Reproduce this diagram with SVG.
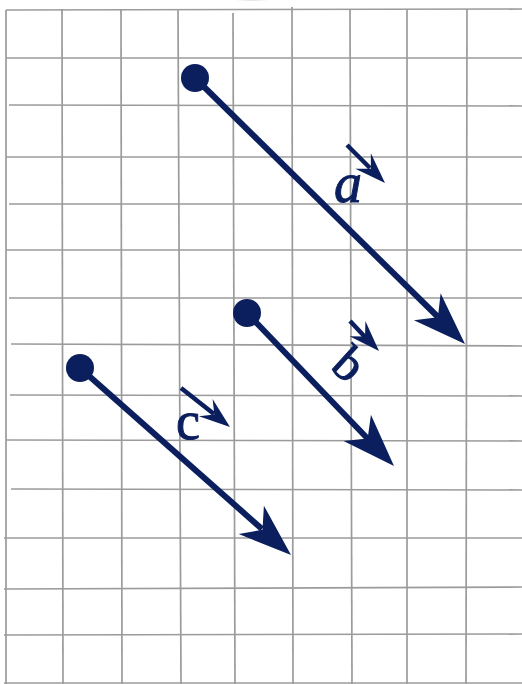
<svg xmlns="http://www.w3.org/2000/svg" xmlns:xlink="http://www.w3.org/1999/xlink" width="522" height="684" viewBox="0 0 522 684">
<style>
.grid line{stroke:#9b9b9b;stroke-width:1.7;fill:none}
.vec{stroke:#0b1f5e;stroke-width:6;fill:none;stroke-linecap:butt}
.sv{stroke:#0b1f5e;stroke-width:4.5;fill:none}
.fillv{fill:#0b1f5e}
.lbl{font-family:"Liberation Serif","Times New Roman",serif;fill:#0b1f5e;stroke:#0b1f5e;stroke-width:1}
</style>
<defs>
<path id="head" d="M0,0 L-53,-19 L-38,0 L-53,19 Z" class="fillv"/>
<path id="shead" d="M0,0 L-31,-11 L-20,0 L-31,11 Z" class="fillv"/>
<radialGradient id="sh" cx="0.5" cy="0.2" r="0.55">
<stop offset="0" stop-color="#5f86cc"/>
<stop offset="0.5" stop-color="#7d8799"/>
<stop offset="0.8" stop-color="#a5a5a5"/>
<stop offset="1" stop-color="#dddddd" stop-opacity="0"/>
</radialGradient>
</defs>
<rect width="522" height="684" fill="#ffffff"/>
<ellipse cx="252" cy="-4" rx="38" ry="11" fill="url(#sh)"/>
<g class="grid" id="grid">
<line x1="6" y1="10" x2="522" y2="9"/>
<line x1="6" y1="58" x2="522" y2="58"/>
<line x1="9" y1="105" x2="522" y2="106"/>
<line x1="6" y1="157" x2="522" y2="157"/>
<line x1="9" y1="204" x2="522" y2="204"/>
<line x1="6" y1="250" x2="522" y2="250"/>
<line x1="9" y1="298" x2="522" y2="298"/>
<line x1="11" y1="344" x2="522" y2="346"/>
<line x1="10" y1="395" x2="522" y2="396"/>
<line x1="6" y1="440" x2="522" y2="441"/>
<line x1="11" y1="489" x2="522" y2="490"/>
<line x1="4" y1="538" x2="522" y2="538"/>
<line x1="4" y1="589" x2="522" y2="587"/>
<line x1="4" y1="635" x2="522" y2="634"/>
<line x1="4" y1="683" x2="522" y2="683"/>
<line x1="6" y1="10" x2="6" y2="684"/>
<line x1="62" y1="9" x2="63" y2="684"/>
<line x1="121" y1="9" x2="122" y2="684"/>
<line x1="178" y1="9" x2="181" y2="684"/>
<line x1="233" y1="13" x2="235" y2="684"/>
<line x1="292" y1="7" x2="293" y2="684"/>
<line x1="350" y1="9" x2="352" y2="684"/>
<line x1="407" y1="9" x2="407" y2="684"/>
<line x1="467" y1="9" x2="466" y2="684"/>
</g>
<g id="connectors">
<g id="vector-a">
<circle cx="195" cy="78" r="14" class="fillv"/>
<line x1="195" y1="78" x2="438" y2="317" class="vec"/>
<use xlink:href="#head" transform="translate(465,344) rotate(44.6)"/>
</g>
<g id="vector-b">
<circle cx="247" cy="313" r="14" class="fillv"/>
<line x1="247" y1="313" x2="368" y2="439" class="vec"/>
<use xlink:href="#head" transform="translate(394,466) rotate(46.1)"/>
</g>
<g id="vector-c">
<circle cx="80" cy="368" r="14" class="fillv"/>
<line x1="80" y1="368" x2="262" y2="529" class="vec"/>
<use xlink:href="#head" transform="translate(291,555) rotate(41.5)"/>
</g>
</g>
<g id="label-a">
<line x1="347" y1="145" x2="370" y2="168" class="sv"/>
<use xlink:href="#shead" transform="translate(385,183) rotate(45)"/>
<text x="334" y="202" class="lbl" font-size="56" font-style="italic">a</text>
</g>
<g id="label-b">
<line x1="350" y1="321" x2="366" y2="338" class="sv"/>
<use xlink:href="#shead" transform="translate(379,351) rotate(46)"/>
<text x="0" y="0" class="lbl" font-size="50" transform="translate(329,368) rotate(42)">b</text>
</g>
<g id="label-c">
<line x1="181" y1="388" x2="214" y2="414" class="sv"/>
<use xlink:href="#shead" transform="translate(230,427) rotate(38.5)"/>
<text x="176" y="439" class="lbl" font-size="54">c</text>
</g>
</svg>
